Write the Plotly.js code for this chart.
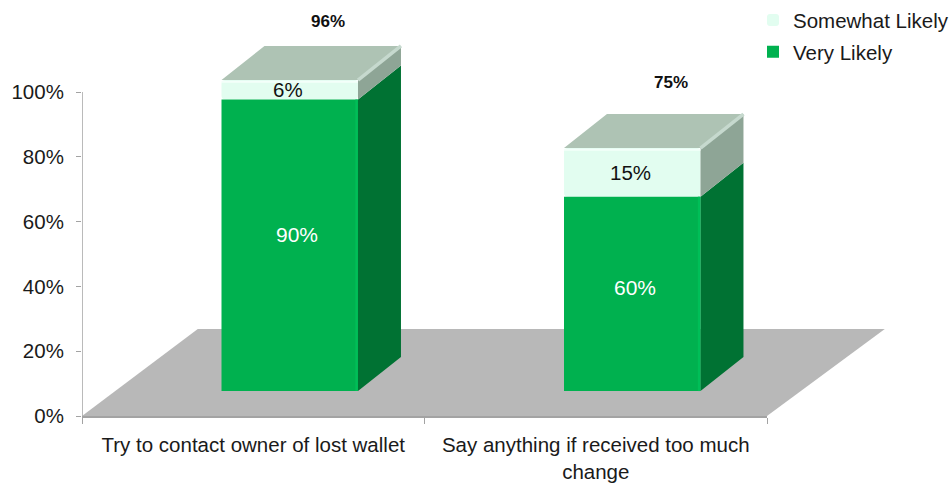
<!DOCTYPE html>
<html><head><meta charset="utf-8">
<script src="https://cdn.plot.ly/plotly-3.0.1.min.js"></script>
<style>html,body{margin:0;padding:0;background:#fff}</style></head>
<body><div id="chart" style="width:951px;height:483px"></div>
<script>
// ---- data ----
const categories = ["Try to contact owner of lost wallet", "Say anything if received too much<br>change"];
const categoryPositions = [0.5, 1.5];
const veryLikely = [90, 60];
const somewhatLikely = [6, 15];
const totals = [96, 75];
const yTicks = [0, 20, 40, 60, 80, 100];

// ---- pseudo-3D geometry, in axis units ----
const barWidth = 0.3985, barOffset = -0.0927;
const lift = 7.7, depthX = 0.1255, depthY = 10.5;

const FONT = '"Liberation Sans", Arial, sans-serif';
const colors = {very:'#00B14F', veryDark:'#007233', veryEdge:'#00BE58', some:'#E2FDF0', someEdge:'#F3FFFA', someDark:'#8EA596', top:'#AEC3B4', edge:'#C6D9CE', floor:'#B8B8B8', axis:'#A3A3A3'};
const left = categoryPositions.map(p => p + barOffset);
const right = left.map(l => l + barWidth);
const veryTop = veryLikely.map(v => v + lift);
const someTop = veryTop.map((v, i) => v + somewhatLikely[i]);

function polys(build){
  const xs = [], ys = [];
  categoryPositions.forEach((_, i) => {
    build(i).forEach(p => { xs.push(p[0]); ys.push(p[1]); });
    xs.push(null); ys.push(null);
  });
  return {x: xs, y: ys};
}
function fillTrace(pts, color){
  return Object.assign({type:'scatter', mode:'lines', fill:'toself', fillcolor:color, line:{width:0, color:color}, showlegend:false, hoverinfo:'skip', cliponaxis:false}, pts);
}
function lineTrace(pts, color, width){
  return Object.assign({type:'scatter', mode:'lines', line:{width:width, color:color}, showlegend:false, hoverinfo:'skip', cliponaxis:false}, pts);
}
const sideVery = polys(i => [[right[i],lift],[right[i]+depthX,lift+depthY],[right[i]+depthX,veryTop[i]+depthY],[right[i],veryTop[i]]]);
const sideSome = polys(i => [[right[i],veryTop[i]],[right[i]+depthX,veryTop[i]+depthY],[right[i]+depthX,someTop[i]+depthY],[right[i],someTop[i]]]);
const topFace = polys(i => [[left[i],someTop[i]],[right[i],someTop[i]],[right[i]+depthX,someTop[i]+depthY],[left[i]+depthX,someTop[i]+depthY]]);
const edgeLine = polys(i => [[right[i],someTop[i]],[right[i]+depthX,someTop[i]+depthY]]);
const veryEdgeLine = polys(i => [[right[i]-0.004,lift],[right[i]-0.004,veryTop[i]]]);
const someEdgeLine = polys(i => [[left[i],someTop[i]-0.5],[right[i],someTop[i]-0.5]]);
const valueAxisLine = {x:[0,0], y:[yTicks[0], yTicks[yTicks.length-1]]};

const traces = [
  {type:'bar', name:'Somewhat Likely', legendgroup:'a', x:categoryPositions, y:somewhatLikely, base:veryTop, width:barWidth, offset:barOffset,
   marker:{color:colors.some, cornerradius:4, line:{width:0}}, cliponaxis:false, hoverinfo:'skip'},
  {type:'bar', name:'Very Likely', legendgroup:'b', x:categoryPositions, y:veryLikely, base:lift, width:barWidth, offset:barOffset,
   marker:{color:colors.very, line:{width:0}}, cliponaxis:false, hoverinfo:'skip'},
  fillTrace(sideVery, colors.veryDark),
  fillTrace(sideSome, colors.someDark),
  fillTrace(topFace, colors.top),
  lineTrace(edgeLine, colors.edge, 3.5),
  lineTrace(veryEdgeLine, colors.veryEdge, 2.5),
  lineTrace(someEdgeLine, colors.someEdge, 2),
  lineTrace(valueAxisLine, colors.axis, 1.5)
];

const totalShift = [[-5,-4],[-4,3]], veryShift = [[7,11],[3,6]];
const annotations = [];
categoryPositions.forEach((p, i) => {
  const c = p + barOffset + barWidth / 2;
  annotations.push({x:c, y:lift + veryLikely[i]/2, text:veryLikely[i]+'%', showarrow:false, xshift:veryShift[i][0], yshift:veryShift[i][1], font:{family:FONT, size:21, color:'#FFFFFF'}});
  annotations.push({x:c, y:veryTop[i] + somewhatLikely[i]/2, text:somewhatLikely[i]+'%', showarrow:false, xshift:-1.5, font:{family:FONT, size:20.5, color:'#111111'}});
  annotations.push({x:c + depthX, y:totals[i] + 27, text:'<b>'+totals[i]+'%</b>', showarrow:false, xshift:totalShift[i][0], yshift:totalShift[i][1], font:{family:FONT, size:17, color:'#111111'}});
});

const layout = {
  width:951, height:483, autosize:false,
  margin:{l:82, r:184, t:11, b:67, pad:0, autoexpand:false},
  paper_bgcolor:'#FFFFFF', plot_bgcolor:'rgba(0,0,0,0)',
  font:{family:FONT, size:20.5, color:'#1A1A1A'},
  barmode:'overlay', hovermode:false,
  xaxis:{type:'linear', range:[0,2], tickmode:'array', tickvals:categoryPositions, ticktext:categories, ticks:'', showgrid:false, zeroline:false,
         showline:true, linecolor:colors.axis, linewidth:1.5, ticklabelstandoff:10, tickfont:{family:FONT, size:20.5, color:'#1A1A1A'},
         minor:{tickmode:'array', tickvals:[0,1,2], ticks:'outside', ticklen:6, tickwidth:1, tickcolor:colors.axis, showgrid:false}},
  yaxis:{range:[0,125], tickmode:'array', tickvals:yTicks, ticktext:yTicks.map(v=>v+'%'), ticks:'outside', ticklen:5, tickwidth:1, tickcolor:colors.axis,
         showgrid:false, zeroline:false, showline:false, ticklabelstandoff:8, tickfont:{family:FONT, size:20.5, color:'#1A1A1A'}},
  shapes:[{type:'path', xref:'paper', yref:'paper', layer:'below', line:{width:0}, fillcolor:colors.floor,
           path:'M0,0 L1,0 L1.172,0.2148 L0.169,0.2148 Z'}],
  annotations:annotations,
  showlegend:true,
  legend:{xref:'container', yref:'container', x:0.7918, xanchor:'left', y:0.9995, yanchor:'top', traceorder:'grouped', tracegroupgap:2, bgcolor:'rgba(0,0,0,0)', font:{family:FONT, size:20.5, color:'#1A1A1A'}}
};
Plotly.newPlot('chart', traces, layout, {displayModeBar:false, staticPlot:true});
</script></body></html>
